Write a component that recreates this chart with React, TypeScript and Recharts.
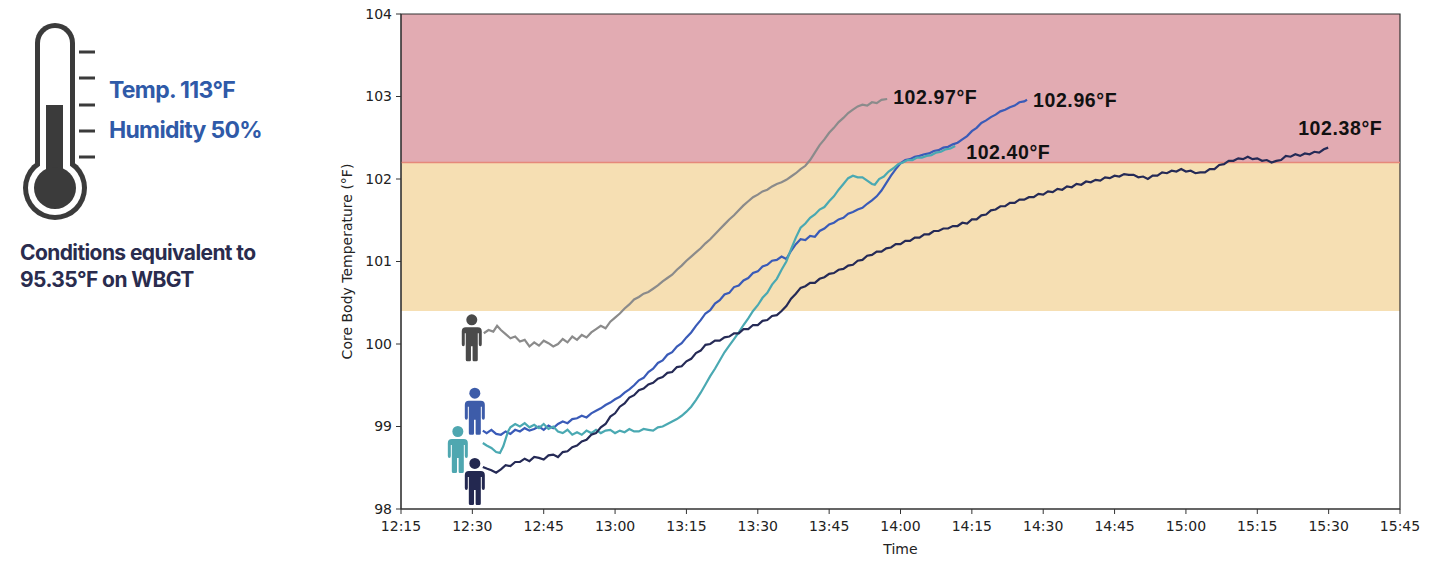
import React from 'react';
import {
  ComposedChart,
  Line,
  XAxis,
  YAxis,
  ReferenceArea,
  ReferenceLine,
} from 'recharts';

// time = minutes after 12:00, temp = core body temperature (°F)
const grayRun: [number, number][] = [
  [32.4, 100.13], [33.4, 100.17], [34.4, 100.15], [35.2, 100.22], [36, 100.17], [37, 100.12],
  [38, 100.07], [39, 100.09], [40, 100.03], [41, 100.05], [42, 99.97], [43, 100.02],
  [44, 99.98], [45, 100.04], [46, 100.01], [47, 99.97], [48, 100.0], [49, 100.06],
  [50, 100.02], [51, 100.09], [52, 100.05], [53, 100.11], [54, 100.08], [55, 100.14],
  [56, 100.18], [57, 100.22], [58, 100.19], [59, 100.27], [60, 100.32], [61, 100.37],
  [62, 100.43], [63, 100.48], [64, 100.54], [65, 100.57], [66, 100.61], [67, 100.63],
  [68, 100.67], [69, 100.71], [70, 100.76], [71, 100.8], [72, 100.84], [73, 100.9],
  [74, 100.95], [75, 101.01], [76, 101.06], [77, 101.11], [78, 101.16], [79, 101.22],
  [80, 101.27], [81, 101.33], [82, 101.39], [83, 101.45], [84, 101.51], [85, 101.56],
  [86, 101.62], [87, 101.68], [88, 101.73], [89, 101.78], [90, 101.81], [91, 101.85],
  [92, 101.87], [93, 101.91], [94, 101.94], [95, 101.96], [96, 101.99], [97, 102.03],
  [98, 102.07], [99, 102.12], [100, 102.16], [101, 102.23], [102, 102.32], [103, 102.41],
  [104, 102.48], [105, 102.56], [106, 102.62], [107, 102.69], [108, 102.74], [109, 102.8],
  [110, 102.84], [111, 102.88], [112, 102.9], [113, 102.89], [114, 102.93], [115, 102.92],
  [116, 102.96], [117.2, 102.97],
];

const blueRun: [number, number][] = [
  [32.2, 98.95], [33, 98.92], [34, 98.96], [35, 98.91], [36, 98.9], [37, 98.94],
  [38, 98.91], [39, 98.96], [40, 98.94], [41, 98.98], [42, 98.95], [43, 98.97],
  [44, 99.0], [45, 98.96], [46, 99.01], [47, 98.98], [48, 99.03], [49, 99.06],
  [50, 99.04], [51, 99.09], [52, 99.1], [53, 99.13], [54, 99.11], [55, 99.16],
  [56, 99.19], [57, 99.22], [58, 99.26], [59, 99.29], [60, 99.33], [61, 99.36],
  [62, 99.41], [63, 99.45], [64, 99.5], [65, 99.56], [66, 99.59], [67, 99.66],
  [68, 99.7], [69, 99.77], [70, 99.8], [71, 99.87], [72, 99.9], [73, 99.97],
  [74, 100.01], [75, 100.08], [76, 100.14], [77, 100.22], [78, 100.29], [79, 100.37],
  [80, 100.41], [81, 100.49], [82, 100.53], [83, 100.6], [84, 100.62], [85, 100.69],
  [86, 100.71], [87, 100.77], [88, 100.8], [89, 100.86], [90, 100.88], [91, 100.94],
  [92, 100.96], [93, 101.01], [94, 101.02], [95, 101.06], [96, 101.03], [97, 101.13],
  [98, 101.21], [99, 101.27], [100, 101.26], [101, 101.31], [102, 101.3], [103, 101.37],
  [104, 101.4], [105, 101.45], [106, 101.47], [107, 101.51], [108, 101.53], [109, 101.58],
  [110, 101.6], [111, 101.63], [112, 101.65], [113, 101.7], [114, 101.74], [115, 101.79],
  [116, 101.86], [117, 101.95], [118, 102.04], [119, 102.12], [120, 102.19], [121, 102.23],
  [122, 102.24], [123, 102.27], [124, 102.28], [125, 102.3], [126, 102.31], [127, 102.34],
  [128, 102.35], [129, 102.38], [130, 102.39], [131, 102.42], [132, 102.44], [133, 102.48],
  [134, 102.52], [135, 102.58], [136, 102.62], [137, 102.68], [138, 102.71], [139, 102.75],
  [140, 102.78], [141, 102.82], [142, 102.84], [143, 102.87], [144, 102.89], [145, 102.93],
  [146, 102.94], [146.6, 102.96],
];

const tealRun: [number, number][] = [
  [32.2, 98.8], [33, 98.77], [34, 98.74], [35, 98.69], [35.8, 98.68], [36.5, 98.76],
  [37, 98.85], [37.5, 98.94], [38, 98.99], [39, 99.03], [40, 99.0], [41, 99.04],
  [42, 98.99], [43, 99.02], [44, 98.98], [45, 99.03], [46, 98.97], [47, 99.0],
  [48, 98.94], [49, 98.92], [50, 98.96], [51, 98.9], [52, 98.93], [53, 98.9],
  [54, 98.95], [55, 98.92], [56, 98.96], [57, 98.92], [58, 98.95], [59, 98.96],
  [60, 98.92], [61, 98.95], [62, 98.93], [63, 98.97], [64, 98.94], [65, 98.94],
  [66, 98.97], [67, 98.96], [68, 98.95], [69, 98.99], [70, 99.0], [71, 99.03],
  [72, 99.06], [73, 99.09], [74, 99.13], [75, 99.18], [76, 99.24], [77, 99.32],
  [78, 99.41], [79, 99.51], [80, 99.61], [81, 99.7], [82, 99.8], [83, 99.9],
  [84, 99.98], [85, 100.06], [86, 100.14], [87, 100.23], [88, 100.31], [89, 100.4],
  [90, 100.47], [91, 100.56], [92, 100.62], [93, 100.72], [94, 100.79], [95, 100.9],
  [96, 101.0], [97, 101.15], [98, 101.29], [99, 101.41], [100, 101.46], [101, 101.53],
  [102, 101.57], [103, 101.63], [104, 101.66], [105, 101.73], [106, 101.79], [107, 101.87],
  [108, 101.94], [109, 102.01], [110, 102.04], [111, 102.02], [112, 102.02], [113, 101.98],
  [114, 101.94], [114.6, 101.93], [115.5, 102.0], [116.5, 102.03], [117.5, 102.09], [118.5, 102.13],
  [119.5, 102.18], [120.5, 102.2], [121.5, 102.23], [122.5, 102.23], [123.5, 102.26], [124.5, 102.26],
  [125.5, 102.28], [126.5, 102.29], [127.5, 102.32], [128.5, 102.33], [129.5, 102.36], [130.5, 102.37],
  [131.5, 102.4],
];

const navyRun: [number, number][] = [
  [32.2, 98.51], [33, 98.49], [34, 98.47], [35, 98.44], [36, 98.48], [37, 98.53],
  [38, 98.52], [39, 98.57], [40, 98.57], [41, 98.61], [42, 98.58], [43, 98.63],
  [44, 98.62], [45, 98.6], [46, 98.65], [47, 98.66], [48, 98.63], [49, 98.69],
  [50, 98.7], [51, 98.75], [52, 98.77], [53, 98.82], [54, 98.84], [55, 98.9],
  [56, 98.92], [57, 98.99], [58, 99.03], [59, 99.12], [60, 99.16], [61, 99.24],
  [62, 99.28], [63, 99.35], [64, 99.38], [65, 99.44], [66, 99.46], [67, 99.51],
  [68, 99.53], [69, 99.58], [70, 99.6], [71, 99.65], [72, 99.66], [73, 99.72],
  [74, 99.73], [75, 99.79], [76, 99.82], [77, 99.89], [78, 99.92], [79, 99.99],
  [80, 100.0], [81, 100.04], [82, 100.04], [83, 100.08], [84, 100.09], [85, 100.13],
  [86, 100.13], [87, 100.18], [88, 100.18], [89, 100.23], [90, 100.23], [91, 100.28],
  [92, 100.29], [93, 100.34], [94, 100.35], [95, 100.4], [96, 100.46], [97, 100.55],
  [98, 100.61], [99, 100.68], [100, 100.7], [101, 100.74], [102, 100.74], [103, 100.79],
  [104, 100.81], [105, 100.85], [106, 100.86], [107, 100.9], [108, 100.91], [109, 100.95],
  [110, 100.96], [111, 101.01], [112, 101.02], [113, 101.07], [114, 101.08], [115, 101.12],
  [116, 101.12], [117, 101.16], [118, 101.17], [119, 101.21], [120, 101.21], [121, 101.25],
  [122, 101.25], [123, 101.29], [124, 101.29], [125, 101.33], [126, 101.33], [127, 101.37],
  [128, 101.37], [129, 101.4], [130, 101.4], [131, 101.43], [132, 101.43], [133, 101.47],
  [134, 101.46], [135, 101.51], [136, 101.51], [137, 101.56], [138, 101.57], [139, 101.62],
  [140, 101.63], [141, 101.67], [142, 101.67], [143, 101.71], [144, 101.71], [145, 101.75],
  [146, 101.75], [147, 101.78], [148, 101.78], [149, 101.82], [150, 101.81], [151, 101.85],
  [152, 101.84], [153, 101.88], [154, 101.87], [155, 101.91], [156, 101.9], [157, 101.94],
  [158, 101.93], [159, 101.97], [160, 101.96], [161, 101.99], [162, 101.98], [163, 102.02],
  [164, 102.01], [165, 102.04], [166, 102.03], [167, 102.06], [168, 102.05], [169, 102.05],
  [170, 102.02], [171, 102.03], [172, 102.0], [173, 102.04], [174, 102.04], [175, 102.08],
  [176, 102.07], [177, 102.1], [178, 102.09], [179, 102.12], [180, 102.09], [181, 102.1],
  [182, 102.07], [183, 102.08], [184, 102.08], [185, 102.12], [186, 102.12], [187, 102.17],
  [188, 102.18], [189, 102.22], [190, 102.22], [191, 102.25], [192, 102.24], [193, 102.27],
  [194, 102.24], [195, 102.25], [196, 102.22], [197, 102.23], [198, 102.2], [199, 102.22],
  [200, 102.23], [201, 102.28], [202, 102.27], [203, 102.3], [204, 102.28], [205, 102.31],
  [206, 102.3], [207, 102.33], [208, 102.32], [209, 102.36], [209.9, 102.38],
];

const timeTicks = [15, 30, 45, 60, 75, 90, 105, 120, 135, 150, 165, 180, 195, 210, 225];
const timeLabels = ['12:15', '12:30', '12:45', '13:00', '13:15', '13:30', '13:45', '14:00', '14:15', '14:30', '14:45', '15:00', '15:15', '15:30', '15:45'];
const tempTicks = [98, 99, 100, 101, 102, 103, 104];
const cautionBand = [100.4, 102.2];
const dangerBand = [102.2, 104];
const endLabels = ['102.97°F', '102.96°F', '102.40°F', '102.38°F'];

const runners = [
  { name: 'gray', run: grayRun, line: '#8b8b8b', icon: '#4a4a4a', iconDx: -12, iconDy: -19, labelDx: 6, labelDy: -2 },
  { name: 'blue', run: blueRun, line: '#3a5bb8', icon: '#3d5ca9', iconDx: -8, iconDy: -43, labelDx: 6, labelDy: 0 },
  { name: 'teal', run: tealRun, line: '#4aa9b2', icon: '#4fa7b0', iconDx: -25, iconDy: -17, labelDx: 11, labelDy: 6 },
  { name: 'navy', run: navyRun, line: '#252a56', icon: '#232850', iconDx: -8, iconDy: -9, labelDx: -30, labelDy: -20 },
];

const axisFont = { fontFamily: 'DejaVu Sans', fontSize: 14, fill: '#222' };

function Person({ x, y, color }: { x: number; y: number; color: string }) {
  return (
    <g transform={`translate(${x},${y})`} fill={color}>
      <circle cx={0} cy={5.5} r={5.5} />
      <path d="M-6,13 H6 Q10,13 10,17 V30 Q10,32 8.5,32 Q7,32 7,30 V19 H6 V45.5 Q6,47 4.5,47 H2 Q0.8,47 0.8,45.5 V32 H-0.8 V45.5 Q-0.8,47 -2,47 H-4.5 Q-6,47 -6,45.5 V19 H-7 V30 Q-7,32 -8.5,32 Q-10,32 -10,30 V17 Q-10,13 -6,13 Z" />
    </g>
  );
}

function Thermometer() {
  const dark = '#3b3b3b';
  return (
    <g>
      <rect x={35} y={23} width={40} height={170} rx={20} fill={dark} />
      <circle cx={55} cy={188} r={32} fill={dark} />
      <rect x={40} y={28} width={30} height={165} rx={15} fill="#fff" />
      <circle cx={55} cy={188} r={27} fill="#fff" />
      <rect x={46} y={105} width={17} height={80} fill={dark} />
      <circle cx={55} cy={188} r={21} fill={dark} />
      {[52, 78, 105, 131, 157].map((y) => (
        <rect key={y} x={79} y={y - 1.5} width={16} height={3} fill={dark} />
      ))}
    </g>
  );
}

export default function App() {
  return (
    <div style={{ position: 'absolute', left: 0, top: 0, width: 1440, height: 565, background: '#fff' }}>
      <svg width={340} height={300} style={{ position: 'absolute', left: 0, top: 0 }}>
        <Thermometer />
        <g fontFamily="Inter" fontWeight={700} dominantBaseline="central">
          <text x={109} y={90} fontSize={23} fill="#2f5aa8" letterSpacing={-0.7}>Temp. 113°F</text>
          <text x={109} y={130} fontSize={23} fill="#2f5aa8" letterSpacing={-0.7}>Humidity 50%</text>
          <text x={20} y={252} fontSize={21} fill="#2a2c4e" letterSpacing={-0.6}>Conditions equivalent to</text>
          <text x={20} y={279} fontSize={21} fill="#2a2c4e" letterSpacing={-0.6}>95.35°F on WBGT</text>
        </g>
      </svg>
      <ComposedChart
        width={1440}
        height={565}
        margin={{ top: 14, right: 40, bottom: 0, left: 341 }}
        style={{ position: 'absolute', left: 0, top: 0 }}
      >
        <XAxis
          dataKey="t"
          type="number"
          domain={[15, 225]}
          ticks={timeTicks}
          tickFormatter={(v: number) => timeLabels[timeTicks.indexOf(v)]}
          allowDuplicatedCategory={false}
          height={56}
          tick={axisFont}
          tickSize={5}
          tickMargin={7}
          stroke="#333"
          label={{ value: 'Time', position: 'insideBottom', offset: 11, style: axisFont }}
        />
        <YAxis
          type="number"
          domain={[98, 104]}
          ticks={tempTicks}
          width={60}
          tick={axisFont}
          tickSize={5}
          tickMargin={4}
          stroke="#333"
          label={{
            content: (p: any) => {
              const vb = p.viewBox;
              const cx = vb.x + 6;
              const cy = vb.y + vb.height / 2;
              return (
                <text
                  x={cx}
                  y={cy}
                  transform={`rotate(-90, ${cx}, ${cy})`}
                  textAnchor="middle"
                  dominantBaseline="central"
                  {...axisFont}
                >
                  Core Body Temperature (°F)
                </text>
              );
            },
          }}
        />
        <ReferenceArea x1={15} x2={225} y1={dangerBand[0]} y2={dangerBand[1]} fill="#e2abb2" fillOpacity={1} stroke="none" />
        <ReferenceArea x1={15} x2={225} y1={cautionBand[0]} y2={cautionBand[1]} fill="#f6dfb3" fillOpacity={1} stroke="none" />
        <ReferenceLine y={dangerBand[0]} stroke="#e6887a" strokeWidth={1.5} />
        {runners.map((r, i) => {
          const rows = r.run.map(([t, v]) => ({ t, v }));
          const last = rows.length - 1;
          return (
            <Line
              key={r.name}
              data={rows}
              dataKey="v"
              type="linear"
              stroke={r.line}
              strokeWidth={2.2}
              isAnimationActive={false}
              activeDot={false}
              dot={(p: any) =>
                p.index === 0 ? (
                  <Person key={`icon-${r.name}`} x={p.cx + r.iconDx} y={p.cy + r.iconDy} color={r.icon} />
                ) : (
                  <g key={`dot-${r.name}-${p.index}`} />
                )
              }
              label={(p: any) =>
                p.index === last ? (
                  <text
                    key={`label-${r.name}`}
                    x={p.x + r.labelDx}
                    y={p.y + r.labelDy}
                    dominantBaseline="central"
                    fontFamily="Liberation Sans"
                    fontWeight={700}
                    fontSize={19.5}
                    letterSpacing={0.6}
                    fill="#111"
                  >
                    {endLabels[i]}
                  </text>
                ) : null
              }
            />
          );
        })}
        <ReferenceArea x1={15} x2={225} y1={98} y2={104} fill="none" stroke="#333" strokeWidth={1.2} />
      </ComposedChart>
    </div>
  );
}
